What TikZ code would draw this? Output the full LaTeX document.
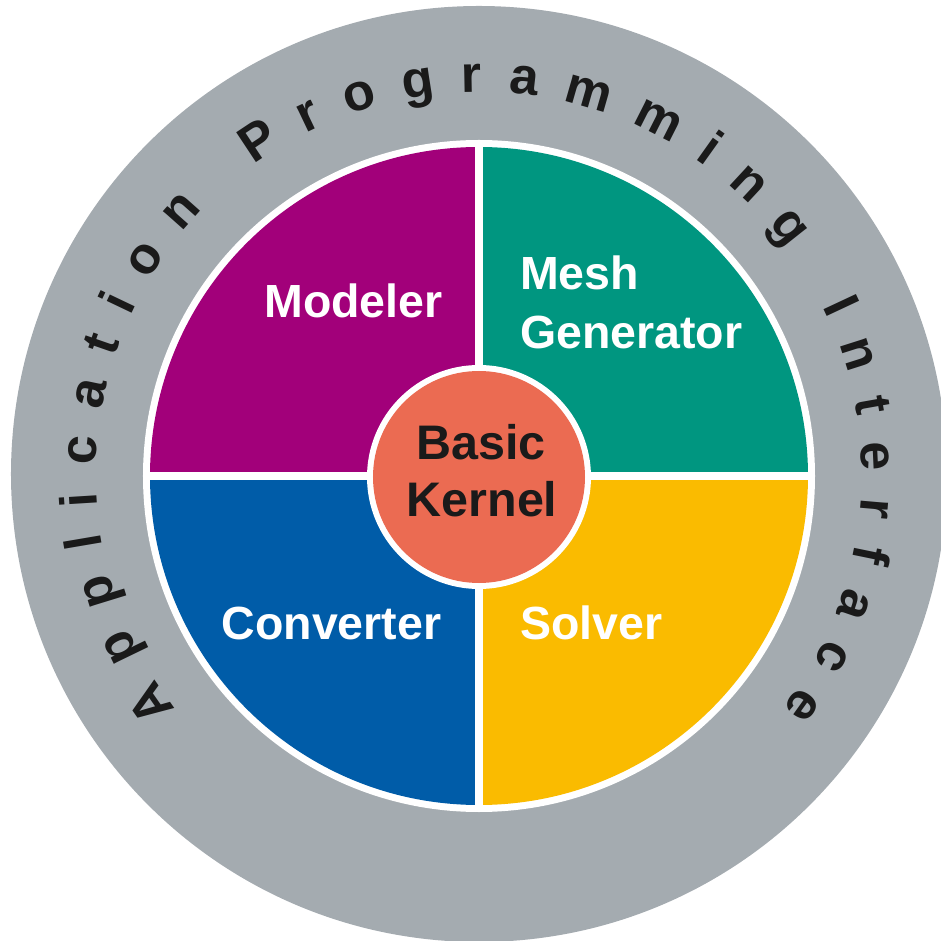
\documentclass[tikz,border=0pt]{standalone}
\usepackage{fontspec}
\setmainfont{Liberation Sans}
\usetikzlibrary{decorations.text}
\definecolor{ringgray}{HTML}{A4ABB0}
\definecolor{modcol}{HTML}{A2007A}
\definecolor{meshcol}{HTML}{009680}
\definecolor{convcol}{HTML}{005CA8}
\definecolor{solvcol}{HTML}{FABB00}
\definecolor{kerncol}{HTML}{EB6B52}
\definecolor{darktext}{HTML}{1A1A1A}
\newcommand{\ringfont}{\bfseries\fontsize{52}{60}\selectfont}
\tikzset{
  quadlabel/.style={text=white, font=\bfseries\fontsize{46.5}{55}\selectfont, inner sep=0pt},
  kernlabel/.style={text=darktext, font=\bfseries\fontsize{48.5}{57}\selectfont, inner sep=0pt},
  gapline/.style={white, line width=8pt}
}
\begin{document}
\begin{tikzpicture}[x=1pt,y=1pt]
\useasboundingbox (-479,-465) rectangle (461,476);
% outer grey ring
\fill[ringgray] (0,2) circle[radius=468pt];
% white disk
\fill[white] (0,0) circle[radius=336pt];
% quadrants
\fill[modcol] (0,0) -- (90:329pt) arc[start angle=90, end angle=180, radius=329pt] -- cycle;
\fill[meshcol] (0,0) -- (0:329pt) arc[start angle=0, end angle=90, radius=329pt] -- cycle;
\fill[convcol] (0,0) -- (180:329pt) arc[start angle=180, end angle=270, radius=329pt] -- cycle;
\fill[solvcol] (0,0) -- (270:329pt) arc[start angle=270, end angle=360, radius=329pt] -- cycle;
\draw[gapline] (-336,0) -- (336,0);
\draw[gapline] (0,-336) -- (0,336);
% kernel
\fill[white] (0,-1) circle[radius=112pt];
\fill[kerncol] (0,-1) circle[radius=106pt];
% labels
\node[quadlabel, anchor=base] (modeler) at (-125.5,158) {Modeler};
\node[quadlabel, anchor=base west] (mesh) at (41,186) {Mesh};
\node[quadlabel, anchor=base west] (generator) at (41,127) {Generator};
\node[quadlabel, anchor=base] (converter) at (-147.5,-163) {Converter};
\node[quadlabel, anchor=base west] (solver) at (41,-163) {Solver};
\node[kernlabel, anchor=base] (basic) at (2,16) {Basic};
\node[kernlabel, anchor=base] (kernel) at (3,-41) {Kernel};
% ring text
\path[decorate, decoration={text along path,
    text={|\ringfont\color{darktext}|Application Programming Interface},
    text align=fit to path}]
  (0,1) ++(217.7:383pt) arc[start angle=217.7, end angle=-37.7, radius=383pt];
\end{tikzpicture}
\end{document}
